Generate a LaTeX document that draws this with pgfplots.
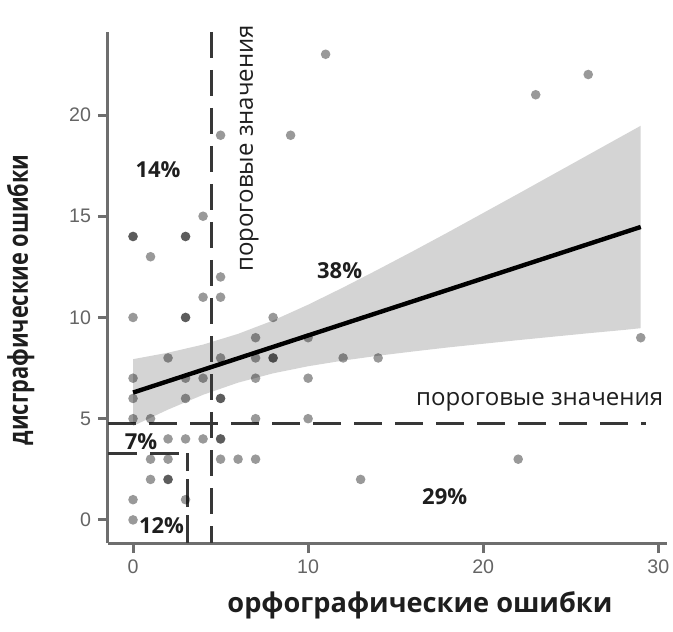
\documentclass[border=0pt]{standalone}
\usepackage{pgfplots}
\pgfplotsset{compat=1.18}
\usepackage{graphicx}
\usepackage{fontspec}
\setmainfont{Open Sans}
\newfontfamily\tickfont{Liberation Sans}
\definecolor{axisgray}{RGB}{110,110,110}
\definecolor{tickgray}{RGB}{100,100,100}
\definecolor{dashgray}{RGB}{55,55,55}
\definecolor{bandgray}{RGB}{153,153,153}
\definecolor{txt}{RGB}{30,30,30}
\begin{document}
\begin{tikzpicture}
\path[use as bounding box] (-54pt,-44pt) rectangle (282.5pt,271.5pt);
\begin{axis}[
  at={(0,0)}, anchor=south west,
  width=279.5pt, height=255.5pt, scale only axis,
  xmin=-1.43, xmax=30.5, ymin=-1.14, ymax=24.1,
  axis lines=left, axis line style={-, axisgray, line width=1.5pt},
  xtick={0,10,20,30}, ytick={0,5,10,15,20},
  tick align=outside, major tick length=5pt,
  tick style={axisgray, line width=1.5pt},
  tick label style={font=\tickfont\fontsize{9.8}{11}\selectfont, tickgray, /pgf/number format/assume math mode=true},
  clip=false,
  xlabel={орфографические ошибки},
  ylabel={\scalebox{0.8}[1]{дисграфические ошибки}},
  every axis x label/.style={at={(axis description cs:0.558,-0.121)}, anchor=center, font=\bfseries\fontsize{13.6}{15}\selectfont, text=txt},
  every axis y label/.style={at={(axis description cs:-0.156,0.476)}, anchor=center, rotate=90, font=\bfseries\fontsize{13.6}{15}\selectfont, text=txt},
]
% points
\addplot[color=black, only marks, mark=*, mark size=2.4pt, mark options={fill=black, fill opacity=0.4, draw opacity=0}] coordinates {
(11,23) (5,19) (9,19) (4,15) (0,14) (0,14) (3,14) (3,14) (1,13) (5,12) (4,11) (5,11)
(0,10) (3,10) (3,10) (8,10) (7,9) (10,9) (2,8) (5,8) (7,8) (8,8) (8,8) (12,8) (14,8)
(0,7) (3,7) (4,7) (7,7) (10,7) (0,6) (3,6) (5,6) (5,6) (0,5) (1,5) (7,5) (10,5)
(2,4) (3,4) (4,4) (5,4) (5,4) (1,3) (2,3) (5,3) (6,3) (7,3) (1,2) (2,2) (2,2)
(0,1) (3,1) (0,0) (29,9) (13,2) (22,3) (26,22) (23,21)
};
% confidence band
\addplot[draw=none, fill=bandgray, fill opacity=0.42] coordinates {
(0,7.94) (2,8.26) (4,8.66) (6,9.19) (8,9.85) (10,10.63) (12,11.48) (14,12.37) (16,13.28)
(18,14.21) (20,15.16) (22,16.11) (24,17.07) (26,18.03) (28,18.99) (29,19.47)
(29,9.47) (28,9.38) (26,9.22) (24,9.05) (22,8.88) (20,8.70) (18,8.52) (16,8.32) (14,8.11)
(12,7.87) (10,7.59) (8,7.24) (6,6.78) (4,6.18) (2,5.45) (0,4.64) (0,7.94)
};
% regression line
\addplot[black, line width=2.2pt] coordinates {(0,6.29) (29,14.47)};
% threshold lines
\addplot[dashgray, line width=1.6pt, dash pattern=on 13pt off 6pt] coordinates {(4.5,24.1) (4.5,-1.14)};
\addplot[dashgray, line width=1.6pt, dash pattern=on 14pt off 6.5pt] coordinates {(-1.43,4.75) (29.3,4.75)};
\addplot[dashgray, line width=1.5pt, dash pattern=on 14.5pt off 6.5pt] coordinates {(-1.43,3.3) (2.7,3.3)};
\addplot[dashgray, line width=1.5pt, dash pattern=on 14pt off 4pt] coordinates {(3.1,-1.14) (3.1,3.3)};
% labels
\node[font=\bfseries\fontsize{11}{13}\selectfont, txt] at (axis cs:1.43,17.3) {14\%};
\node[font=\bfseries\fontsize{11}{13}\selectfont, txt] at (axis cs:11.8,12.3) {38\%};
\node[font=\bfseries\fontsize{11}{13}\selectfont, txt] at (axis cs:0.46,3.86) {7\%};
\node[font=\bfseries\fontsize{11}{13}\selectfont, txt] at (axis cs:1.63,-0.3) {12\%};
\node[font=\bfseries\fontsize{11}{13}\selectfont, txt] at (axis cs:17.8,1.14) {29\%};
\node[font=\fontsize{12}{14}\selectfont, txt, anchor=east, inner sep=0pt] at (axis cs:30.3,5.84) {пороговые значения};
\node[font=\fontsize{12}{14}\selectfont, txt, rotate=90] at (axis cs:6.63,18.35) {пороговые значения};
\end{axis}
\end{tikzpicture}
\end{document}
